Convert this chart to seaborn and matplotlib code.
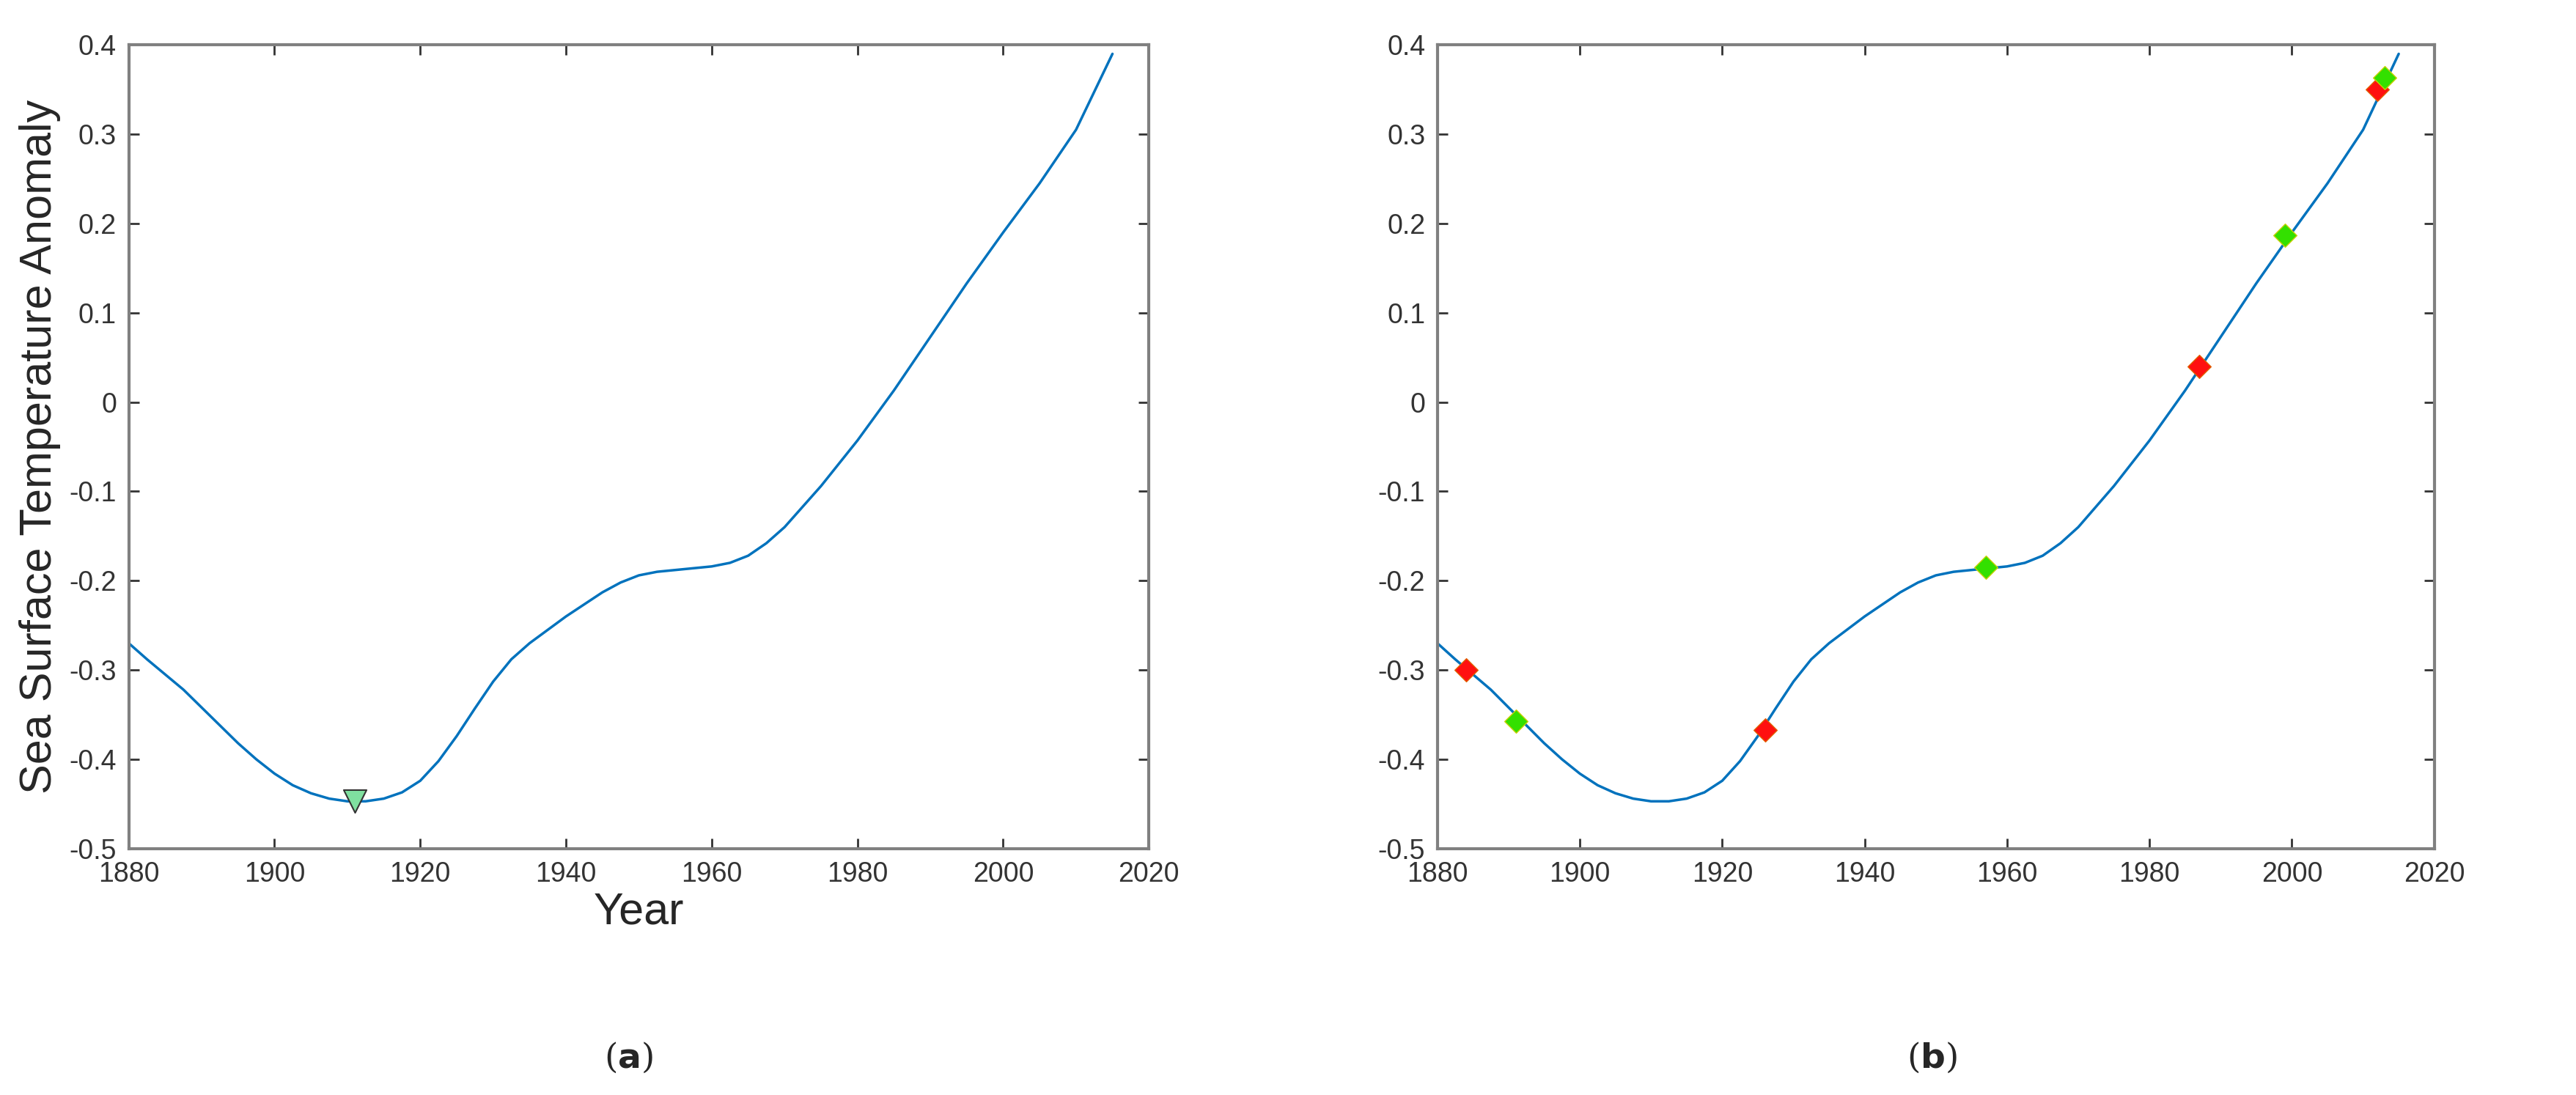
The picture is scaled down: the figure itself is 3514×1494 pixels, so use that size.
import matplotlib
matplotlib.use("Agg")
import matplotlib.pyplot as plt
import seaborn as sns
import pandas as pd

years = [1880, 1882.5, 1885, 1887.5, 1890, 1892.5, 1895, 1897.5, 1900, 1902.5, 1905,
         1907.5, 1910, 1912.5, 1915, 1917.5, 1920, 1922.5, 1925, 1927.5, 1930, 1932.5,
         1935, 1940, 1945, 1947.5, 1950, 1952.5, 1955, 1957.5, 1960, 1962.5, 1965,
         1967.5, 1970, 1975, 1980, 1985, 1990, 1995, 2000, 2005, 2010, 2015]
anomaly = [-0.27, -0.288, -0.305, -0.322, -0.342, -0.362, -0.382, -0.400, -0.416,
           -0.429, -0.438, -0.444, -0.447, -0.447, -0.444, -0.437, -0.424, -0.402,
           -0.374, -0.343, -0.313, -0.288, -0.270, -0.240, -0.213, -0.202, -0.194,
           -0.190, -0.188, -0.186, -0.184, -0.180, -0.172, -0.158, -0.140, -0.094,
           -0.043, 0.013, 0.073, 0.133, 0.190, 0.245, 0.305, 0.39]

min_year = [1911]
min_value = [-0.447]

red_years = [1884, 1926, 1987, 2012]
red_values = [-0.30, -0.367, 0.04, 0.35]
green_years = [1891, 1957, 1999, 2013]
green_values = [-0.357, -0.185, 0.187, 0.363]

df = pd.DataFrame({"year": years, "anomaly": anomaly})

sns.set_style("white")
plt.rcParams["font.family"] = ["Liberation Sans", "DejaVu Sans"]

fig = plt.figure(figsize=(35.14, 14.94), dpi=100)
ax_a = fig.add_axes([0.05, 0.225, 0.396, 0.734])
ax_b = fig.add_axes([0.558, 0.225, 0.387, 0.734])

line_color = "#0072BD"
for ax in (ax_a, ax_b):
    sns.lineplot(data=df, x="year", y="anomaly", ax=ax, color=line_color, linewidth=2.5)
    ax.set_xlim(1880, 2020)
    ax.set_ylim(-0.5, 0.4)
    ax.set_xticks(range(1880, 2021, 20))
    ax.set_yticks([-0.5, -0.4, -0.3, -0.2, -0.1, 0, 0.1, 0.2, 0.3, 0.4])
    ax.set_yticklabels(["-0.5", "-0.4", "-0.3", "-0.2", "-0.1", "0", "0.1", "0.2", "0.3", "0.4"])
    ax.tick_params(direction="in", length=10, width=2, colors="#333333", labelsize=27,
                   top=True, right=True, bottom=True, left=True, pad=12)
    for s in ax.spines.values():
        s.set_color("#808080")
        s.set_linewidth(3)
    ax.set_xlabel("")
    ax.set_ylabel("")

ax_a.set_xlabel("Year", fontsize=44, labelpad=4)
ax_a.set_ylabel("Sea Surface Temperature Anomaly", fontsize=44, labelpad=8)
sns.scatterplot(x=min_year, y=min_value, ax=ax_a, marker="v", s=500,
                color="#7FE0A0", edgecolor="#333333", linewidth=1.5, zorder=5)

sns.scatterplot(x=red_years, y=red_values, ax=ax_b, marker="D", s=260,
                color="#FF1010", edgecolor="#E06000", linewidth=1, zorder=5)
sns.scatterplot(x=green_years, y=green_values, ax=ax_b, marker="D", s=260,
                color="#33E000", edgecolor="#C8D000", linewidth=1, zorder=5)

fig.text(0.244, 0.025, r"($\mathbf{a}$)", ha="center", fontsize=34, family="DejaVu Serif")
fig.text(0.75, 0.025, r"($\mathbf{b}$)", ha="center", fontsize=34, family="DejaVu Serif")

fig.savefig("out.png", dpi=100)
